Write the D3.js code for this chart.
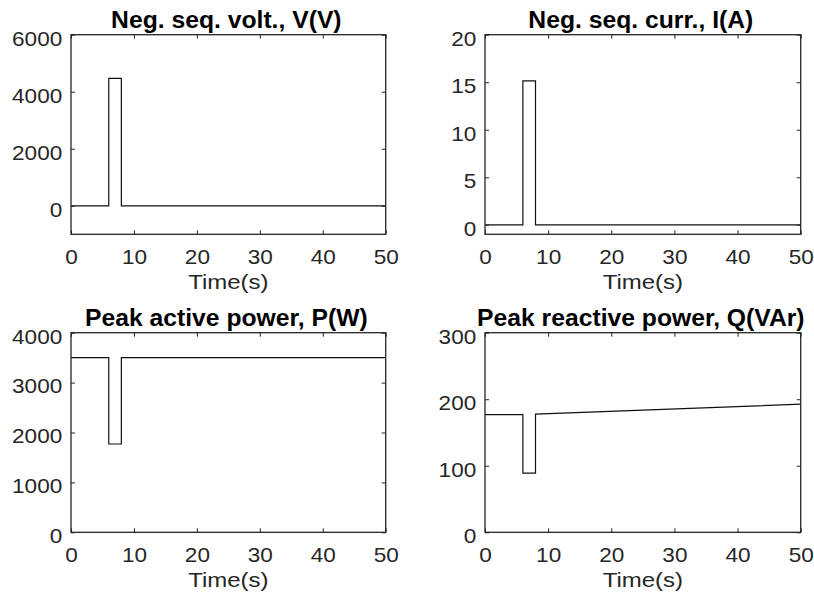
<!DOCTYPE html>
<html>
<head>
<meta charset="utf-8">
<script src="https://cdn.jsdelivr.net/npm/d3@7"></script>
<style>
  html, body { margin: 0; padding: 0; background: #fff; }
  svg { display: block; }
  text { font-family: "Liberation Sans", Arial, Helvetica, sans-serif; }
</style>
</head>
<body>
<svg id="chart" width="814" height="598"></svg>
<script>
// ---- data ----
const time = [0, 6, 6, 8, 8, 50];
const negSeqVolt = [0, 0, 4470, 4470, 0, 0];
const negSeqCurr = [0, 0, 15.15, 15.15, 0, 0];
const activePower = [3500, 3500, 1770, 1770, 3500, 3500];
const reactivePower = [176.8, 177, 89, 89, 177.7, 192.5];

const xTicks = [0, 10, 20, 30, 40, 50];
const voltTicks = [0, 2000, 4000, 6000];
const currTicks = [0, 5, 10, 15, 20];
const pTicks = [0, 1000, 2000, 3000, 4000];
const qTicks = [0, 100, 200, 300];

const titles = ["Neg. seq. volt., V(V)", "Neg. seq. curr., I(A)",
                "Peak active power, P(W)", "Peak reactive power, Q(VAr)"];
const xLabel = "Time(s)";

const panels = [
  { title: titles[0], values: negSeqVolt, yDomain: [-1000, 6000], yTicks: voltTicks,
    left: 71, right: 385.7, top: 34.7, bottom: 234.3 },
  { title: titles[1], values: negSeqCurr, yDomain: [-1, 20], yTicks: currTicks,
    left: 485, right: 800.7, top: 34.7, bottom: 234.3 },
  { title: titles[2], values: activePower, yDomain: [0, 4000], yTicks: pTicks,
    left: 71, right: 385.7, top: 332.7, bottom: 532.3 },
  { title: titles[3], values: reactivePower, yDomain: [0, 300], yTicks: qTicks,
    left: 485, right: 800.7, top: 332.7, bottom: 532.3 }
];

const svg = d3.select("#chart");
const axisColor = "#262626";
const tickLen = 4;

panels.forEach(p => {
  const x = d3.scaleLinear().domain([0, 50]).range([p.left, p.right]);
  const y = d3.scaleLinear().domain(p.yDomain).range([p.bottom, p.top]);
  const g = svg.append("g");

  // data line
  const line = d3.line().x((d, i) => x(time[i])).y(d => y(d));
  g.append("path")
    .datum(p.values)
    .attr("d", line)
    .attr("fill", "none")
    .attr("stroke", "#111")
    .attr("stroke-width", 1.2);

  // axes (inward ticks on all four sides)
  const styleAxis = sel => {
    sel.select(".domain").remove();
    sel.selectAll(".tick line").attr("stroke", axisColor).attr("stroke-width", 1);
  };
  const bottomAx = g.append("g").attr("transform", `translate(0,${p.bottom})`)
    .call(d3.axisBottom(x).tickValues(xTicks).tickSize(-tickLen).tickFormat(d3.format("d")));
  styleAxis(bottomAx);
  bottomAx.selectAll(".tick text")
    .attr("y", null).attr("dy", null)
    .attr("transform", "translate(0,30) scale(1.13,1)")
    .attr("font-size", 20).attr("fill", axisColor)
    .attr("font-family", '"Liberation Sans", Arial, sans-serif');

  const topAx = g.append("g").attr("transform", `translate(0,${p.top})`)
    .call(d3.axisTop(x).tickValues(xTicks).tickSize(-tickLen).tickFormat(""));
  styleAxis(topAx);

  const leftAx = g.append("g").attr("transform", `translate(${p.left},0)`)
    .call(d3.axisLeft(y).tickValues(p.yTicks).tickSize(-tickLen).tickFormat(d3.format("d")));
  styleAxis(leftAx);
  leftAx.selectAll(".tick text")
    .attr("x", null).attr("dy", null)
    .attr("text-anchor", "end")
    .attr("transform", "translate(-8.7,10.3) scale(1.13,1)")
    .attr("font-size", 20).attr("fill", axisColor)
    .attr("font-family", '"Liberation Sans", Arial, sans-serif');

  const rightAx = g.append("g").attr("transform", `translate(${p.right},0)`)
    .call(d3.axisRight(y).tickValues(p.yTicks).tickSize(-tickLen).tickFormat(""));
  styleAxis(rightAx);

  // box
  g.append("rect")
    .attr("x", p.left).attr("y", p.top)
    .attr("width", p.right - p.left).attr("height", p.bottom - p.top)
    .attr("fill", "none").attr("stroke", axisColor).attr("stroke-width", 1.3);

  // title
  g.append("text")
    .attr("x", (p.left + p.right) / 2 - 2).attr("y", p.top - 6.5)
    .attr("text-anchor", "middle")
    .attr("font-size", 24.7).attr("font-weight", "bold").attr("fill", "#000")
    .text(p.title);

  // x label
  g.append("text")
    .attr("transform", `translate(${(p.left + p.right) / 2},${p.bottom + 55}) scale(1.2,1)`)
    .attr("text-anchor", "middle")
    .attr("font-size", 20).attr("fill", axisColor)
    .text(xLabel);
});
</script>
</body>
</html>
